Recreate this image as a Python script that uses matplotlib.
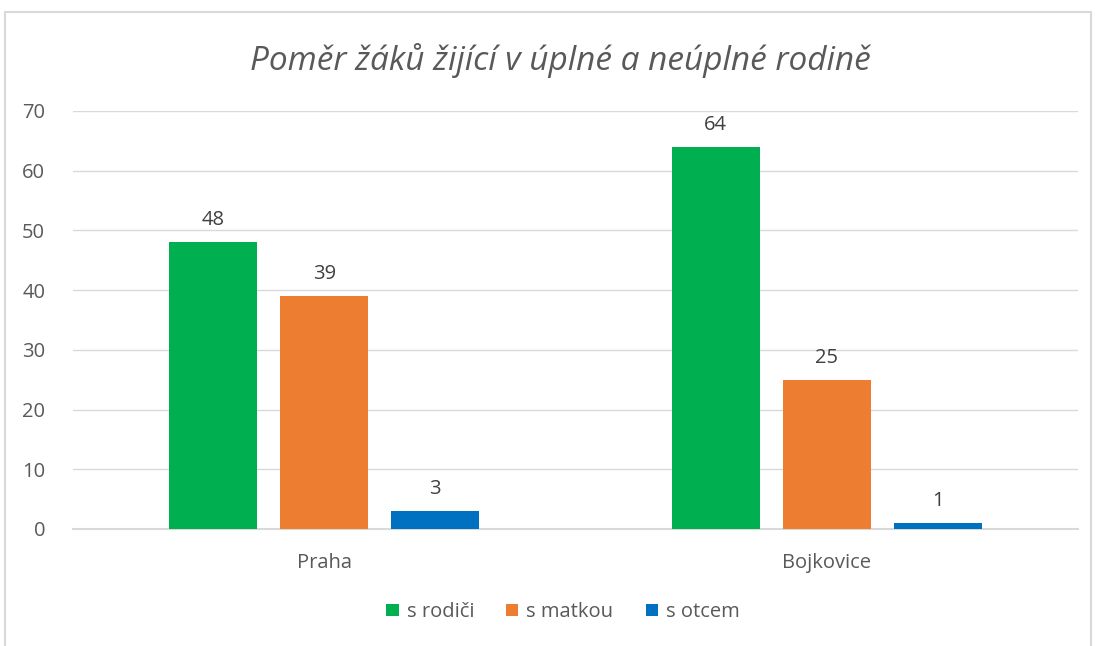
import numpy as np
import matplotlib.pyplot as plt
from matplotlib.patches import Rectangle

# data
categories = ["Praha", "Bojkovice"]
series_names = ["s rodiči", "s matkou", "s otcem"]
values = [
    [48, 64],   # s rodiči
    [39, 25],   # s matkou
    [3, 1],     # s otcem
]
colors = ["#00B050", "#ED7D31", "#0070C0"]

plt.rcParams['font.family'] = ['Open Sans', 'DejaVu Sans']

fig = plt.figure(figsize=(10.95, 6.46), dpi=100)
ax = fig.add_axes([73/1095, 1-529/646, (1078-73)/1095, (529-111)/646])

# chart frame
fig.patches.append(Rectangle((5/1095, -0.05), (1091-5)/1095, 1.05-12/646,
                             transform=fig.transFigure, fill=False,
                             edgecolor="#D9D9D9", linewidth=1.5))

x = np.arange(len(categories))
width = 0.175
step = 0.221
for i, (name, vals) in enumerate(zip(series_names, values)):
    pos = x + (i - 1) * step
    bars = ax.bar(pos, vals, width, color=colors[i], label=name, zorder=3)
    for b, v in zip(bars, vals):
        ax.text(b.get_x() + b.get_width()/2, v + 2.0, str(v), ha='center',
                va='bottom', fontsize=14.5, color="#404040")

ax.set_xlim(-0.5, 1.5)
ax.set_ylim(0, 70)
ax.set_yticks(range(0, 71, 10))
ax.set_xticks(x)
ax.set_xticklabels(categories)
ax.tick_params(axis='both', length=0, labelsize=14.5, colors="#595959")
ax.tick_params(axis='y', pad=20)
ax.tick_params(axis='x', pad=17)
ax.grid(axis='y', color="#D9D9D9", linewidth=1, zorder=0)
for s in ['top', 'right', 'left']:
    ax.spines[s].set_visible(False)
ax.spines['bottom'].set_color("#D9D9D9")
ax.spines['bottom'].set_linewidth(1.5)

fig.text(560/1095, 1-60/646, "Poměr žáků žijící v úplné a neúplné rodině",
         ha='center', va='center', fontsize=24, style='italic', color="#595959")

fig.legend(loc='center', bbox_to_anchor=(563/1095, 1-612/646), ncol=3,
           frameon=False, fontsize=14.5, labelcolor="#595959",
           handlelength=0.6, handleheight=0.6, handletextpad=0.4,
           columnspacing=1.6)

fig.savefig("out.png", dpi=100)
